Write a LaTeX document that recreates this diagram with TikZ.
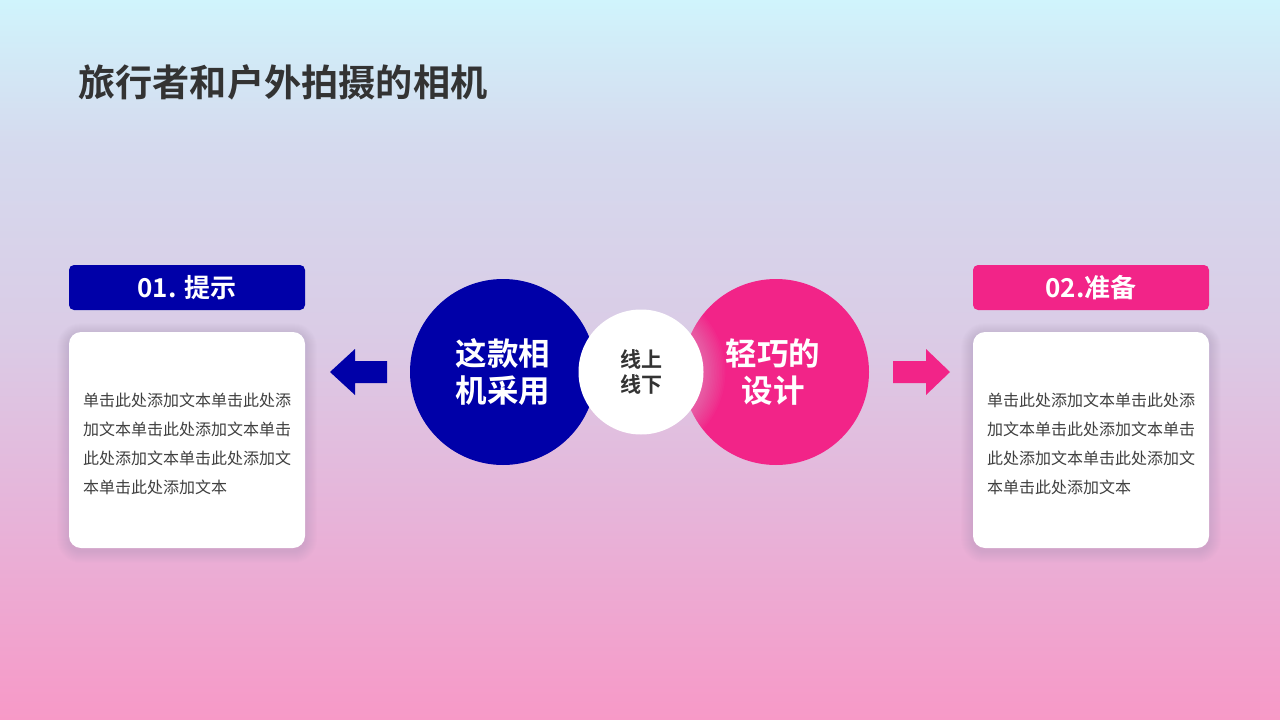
\documentclass[tikz,border=0pt]{standalone}
\usepackage{fontspec}
\setmainfont{Noto Sans CJK SC}
\newfontfamily\cjkb{Noto Sans CJK SC Bold}
\definecolor{deepblue}{HTML}{0000A8}
\definecolor{hotpink}{HTML}{F22488}
\definecolor{titlegray}{HTML}{333333}
\definecolor{bodygray}{HTML}{404040}
\definecolor{shadowc}{HTML}{6A5A80}
\definecolor{glowc}{HTML}{E8D0E8}
\pgfdeclareverticalshading{bgshade}{100bp}{%
  color(0bp)=(rgb,255:red,247;green,153;blue,199);
  color(25bp)=(rgb,255:red,247;green,153;blue,199);
  color(40bp)=(rgb,255:red,230;green,181;blue,218);
  color(52bp)=(rgb,255:red,218;green,204;blue,230);
  color(65bp)=(rgb,255:red,213;green,218;blue,238);
  color(75bp)=(rgb,255:red,208;green,244;blue,252);
  color(100bp)=(rgb,255:red,208;green,244;blue,252)}
\usetikzlibrary{calc}
\tikzset{
  header/.style={rounded corners=5pt, minimum width=236pt, minimum height=45pt, inner sep=0pt,
    text=white, font=\cjkb\fontsize{26}{26}\selectfont},
  card/.style={fill=white, rounded corners=12pt, minimum width=236pt, minimum height=216pt, inner sep=0pt},
  bodytext/.style={text=bodygray, font=\fontsize{16}{29}\selectfont, align=left, inner sep=0pt},
  bigcircle/.style={circle, minimum size=186pt, inner sep=0pt, text=white,
    font=\cjkb\fontsize{31.5}{37}\selectfont, align=center},
  midcircle/.style={circle, fill=white, minimum size=125pt, inner sep=0pt, text=titlegray,
    font=\cjkb\fontsize{21}{25}\selectfont, align=center}
}
\newcommand{\cardglow}[2]{%
  \foreach \k in {1,...,12}{
    \fill[shadowc, opacity=0.011, rounded corners={12pt+\k pt}]
      ($(#1,#2)+(-118-\k,-108-\k+3)$) rectangle ($(#1,#2)+(118+\k,108+\k+3)$);
  }}
\begin{document}
\begin{tikzpicture}[x=1pt,y=-1pt]
\useasboundingbox (0,0) rectangle (1280,720);
\shade[shading=bgshade] (0,0) rectangle (1280,720);

% title
\node[anchor=west, inner sep=0pt, text=titlegray, font=\cjkb\fontsize{37.2}{37}\selectfont] (title) at (78,82) {旅行者和户外拍摄的相机};

% left side
\node[header, fill=deepblue] (h1) at (187,287.5) {01. 提示};
\cardglow{187}{440}
\node[card] (c1) at (187,440) {};
\node[bodytext, anchor=north west] (t1) at (83,393) {单击此处添加文本单击此处添\\加文本单击此处添加文本单击\\此处添加文本单击此处添加文\\本单击此处添加文本};

% right side
\node[header, fill=hotpink] (h2) at (1091,287.5) {02.准备};
\cardglow{1091}{440}
\node[card] (c2) at (1091,440) {};
\node[bodytext, anchor=north west] (t2) at (987,393) {单击此处添加文本单击此处添\\加文本单击此处添加文本单击\\此处添加文本单击此处添加文\\本单击此处添加文本};

% circles
\node[bigcircle, fill=deepblue] (cb) at (503,372) {这款相\\机采用};
\node[bigcircle, fill=hotpink] (cp) at (776,372) {};
\begin{scope}
  \clip (cp.center) circle (93);
  \foreach \k in {1,...,14}{
    \fill[glowc, opacity=0.03] (641,372) circle ({62+\k*1.6});
  }
\end{scope}
\node[bigcircle, fill=none] (cpt) at (cp) {\hspace*{-6pt}轻巧的\\\hspace*{-6pt}设计};
\node[midcircle] (cw) at (641,372) {线上\\线下};

% arrows
\fill[deepblue] (330,372) -- (355,349) -- (355,361) -- (387,361) -- (387,383) -- (355,383) -- (355,395) -- cycle;
\fill[hotpink] (950,372) -- (926,349) -- (926,361) -- (893,361) -- (893,383) -- (926,383) -- (926,395) -- cycle;
\end{tikzpicture}
\end{document}
